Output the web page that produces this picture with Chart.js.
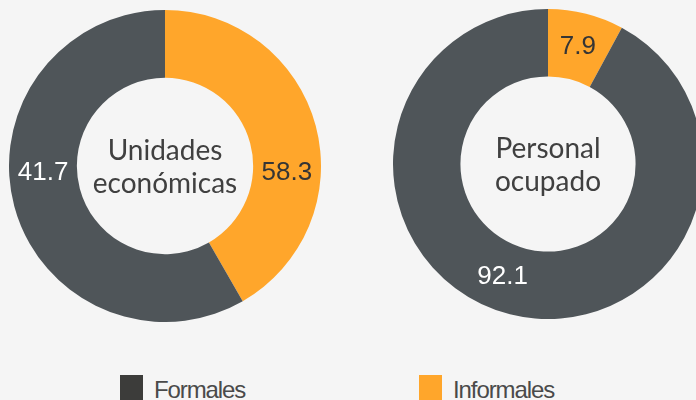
<!DOCTYPE html>
<html lang="es">
<head>
<meta charset="utf-8">
<script src="https://cdn.jsdelivr.net/npm/chart.js@4.4.1/dist/chart.umd.min.js"></script>
<style>
  html, body { margin: 0; padding: 0; background: #f5f5f5; }
  #page { position: relative; width: 696px; height: 400px; overflow: hidden; background: #f5f5f5; }
  #page canvas { position: absolute; }
  .leg { position: absolute; top: 375px; height: 25px; font-family: "Liberation Sans", Arial, sans-serif; font-size: 24px; line-height: 24px; letter-spacing: -1.1px; color: #4a4a4a; }
  .leg i { position: absolute; left: 0; top: 0; width: 23px; height: 25px; }
  .leg span { position: absolute; left: 34px; top: 3px; white-space: nowrap; }
</style>
</head>
<body>
<div id="page">
  <canvas id="unidades" width="312" height="312" style="left:9px;top:10px"></canvas>
  <canvas id="personal" width="310" height="310" style="left:393px;top:9px"></canvas>
  <div class="leg" style="left:120px"><i style="background:#3c3c3a"></i><span>Formales</span></div>
  <div class="leg" style="left:419px"><i style="background:#ffa62b"></i><span>Informales</span></div>
</div>
<script>
// slices in drawing order, clockwise from the top
const sliceNames = ['Informales', 'Formales'];
const sliceColors = ['#ffa62b', '#4f5559'];

// arcs as they appear in the picture
const unidadesValues = [41.7, 58.3];
const personalValues = [7.9, 92.1];

// numbers printed on the rings
const unidadesLabels = ['58.3', '41.7'];
const personalLabels = ['7.9', '92.1'];

const unidadesTitle = ['Unidades', 'económicas'];
const personalTitle = ['Personal', 'ocupado'];

// draws the value texts and the centre caption
const ringText = {
  id: 'ringText',
  afterDatasetsDraw(chart, args, opts) {
    const ctx = chart.ctx;
    const arcs = chart.getDatasetMeta(0).data;
    const first = arcs[0];
    const cx = first.x, cy = first.y;
    const mid = (first.innerRadius + first.outerRadius) / 2;

    ctx.save();
    ctx.textAlign = 'center';
    ctx.textBaseline = 'middle';
    ctx.font = '26px "Liberation Sans", Arial, sans-serif';
    arcs.forEach((arc, i) => {
      let a;
      if (opts.angles && opts.angles[i] != null) {
        a = opts.angles[i] * Math.PI / 180 - Math.PI / 2;
      } else {
        a = (arc.startAngle + arc.endAngle) / 2;
      }
      ctx.fillStyle = opts.colors[i];
      ctx.fillText(opts.labels[i], cx + mid * Math.cos(a), cy + mid * Math.sin(a));
    });

    ctx.textBaseline = 'alphabetic';
    ctx.font = '28px Lato, "Open Sans", sans-serif';
    ctx.fillStyle = '#404040';
    ctx.fillText(opts.title[0], cx, cy - 6.5);
    ctx.fillText(opts.title[1], cx, cy + 27);
    ctx.restore();
  }
};

function makeRing(id, values, labels, title, angles) {
  return new Chart(document.getElementById(id), {
    type: 'doughnut',
    data: {
      labels: sliceNames,
      datasets: [{
        data: values,
        backgroundColor: sliceColors,
        borderWidth: 0,
        hoverOffset: 0
      }]
    },
    options: {
      responsive: false,
      animation: false,
      cutout: '56.5%',
      layout: { padding: 0 },
      events: [],
      plugins: {
        legend: { display: false },
        tooltip: { enabled: false },
        ringText: {
          labels: labels,
          title: title,
          angles: angles,
          colors: ['#353535', '#ffffff']
        }
      }
    },
    plugins: [ringText]
  });
}

makeRing('unidades', unidadesValues, unidadesLabels, unidadesTitle, [93, 267]);
makeRing('personal', personalValues, personalLabels, personalTitle, [null, 202]);
</script>
</body>
</html>
